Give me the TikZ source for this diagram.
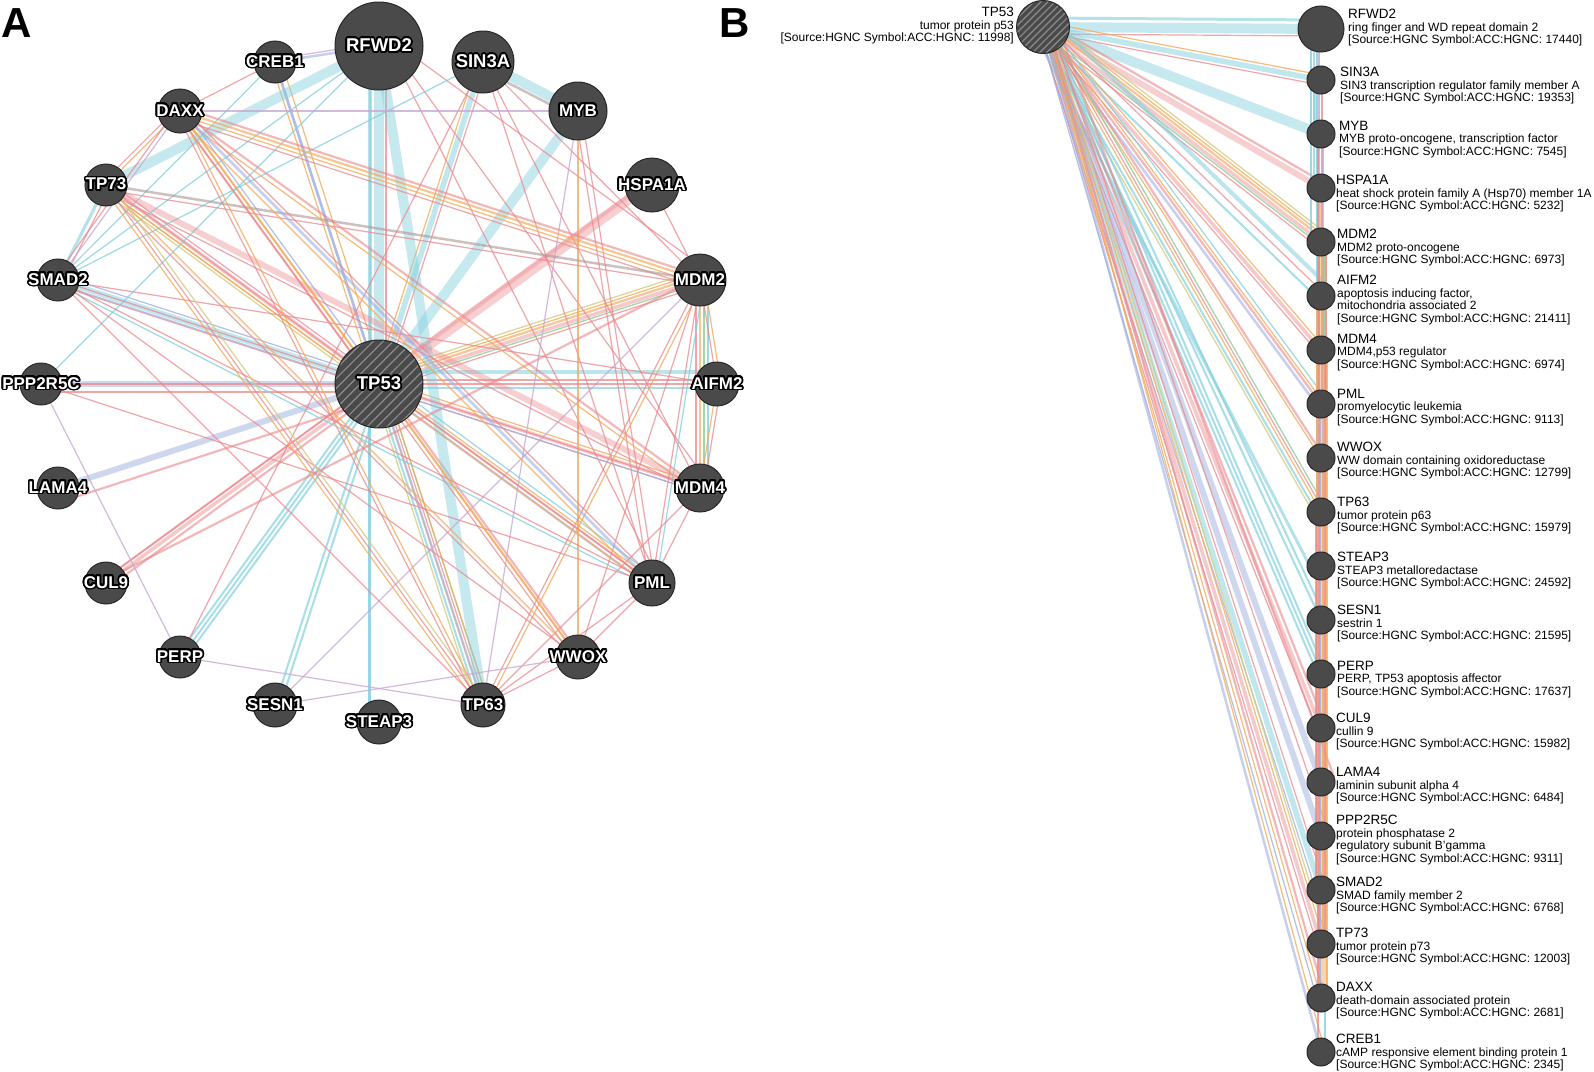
\documentclass[tikz,border=0pt]{standalone}
\usepackage{fontspec}
\setmainfont{Liberation Sans}
\usepackage[copies]{contour}
\contourlength{1.7pt}
\contournumber{24}
\usetikzlibrary{calc,patterns.meta}
\pgfdeclarelayer{bg}
\pgfsetlayers{bg,main}
\definecolor{pkc}{RGB}{235,135,140}
\definecolor{cyc}{RGB}{130,208,222}
\definecolor{orc}{RGB}{244,170,90}
\definecolor{lvc}{RGB}{160,176,224}
\definecolor{puc}{RGB}{200,168,212}
\definecolor{grc}{RGB}{140,205,150}
\definecolor{yec}{RGB}{212,204,130}
\definecolor{brc}{RGB}{176,150,150}
\definecolor{ndark}{RGB}{74,74,74}
\definecolor{nedge}{RGB}{40,40,40}
\definecolor{hatch}{RGB}{140,140,140}
\tikzset{
  edg/.style={line cap=butt},
  pk1/.style={edg,draw=pkc,line width=1.2pt,draw opacity=.75},
  pk2/.style={edg,draw=pkc,line width=2.2pt,draw opacity=.6},
  pk3/.style={edg,draw=pkc,line width=3.5pt,draw opacity=.45},
  pk5/.style={edg,draw=pkc,line width=6pt,draw opacity=.4},
  cy1/.style={edg,draw=cyc,line width=1.2pt,draw opacity=.8},
  cy2/.style={edg,draw=cyc,line width=2pt,draw opacity=.7},
  cy3/.style={edg,draw=cyc,line width=3pt,draw opacity=.6},
  cy4/.style={edg,draw=cyc,line width=4pt,draw opacity=.55},
  cy5/.style={edg,draw=cyc,line width=5.5pt,draw opacity=.5},
  cy10/.style={edg,draw=cyc,line width=10pt,draw opacity=.45},
  or1/.style={edg,draw=orc,line width=1.2pt,draw opacity=.8},
  or2/.style={edg,draw=orc,line width=2.2pt,draw opacity=.65},
  orband/.style={edg,draw=orc,line width=10pt,draw opacity=.5},
  lv1/.style={edg,draw=lvc,line width=1.2pt,draw opacity=.8},
  lv2/.style={edg,draw=lvc,line width=2.5pt,draw opacity=.6},
  lv5/.style={edg,draw=lvc,line width=6pt,draw opacity=.5},
  pu1/.style={edg,draw=puc,line width=1.2pt,draw opacity=.8},
  gr1/.style={edg,draw=grc,line width=1.3pt,draw opacity=.8},
  ye1/.style={edg,draw=yec,line width=1.3pt,draw opacity=.8},
  br2/.style={edg,draw=brc,line width=2.5pt,draw opacity=.6},
  gbase/.style={circle,draw=nedge,line width=1pt,inner sep=0pt},
  gnA/.style={gbase,fill=ndark},
  hatched/.style={gbase,preaction={fill=ndark},pattern={Lines[angle=45,distance=#1,line width=1.2pt]},pattern color=hatch},
  lblS/.style={text=white,inner sep=0pt,font=\bfseries\fontsize{17}{17}\selectfont},
  lblL/.style={text=white,inner sep=0pt,font=\bfseries\fontsize{18.5}{18.5}\selectfont},
  btext/.style={anchor=north west,align=left,inner sep=0pt,font=\fontsize{12}{12.5}\selectfont},
  head/.style={anchor=base west,inner sep=0pt,font=\bfseries\fontsize{42}{42}\selectfont}
}
% edge between two named nodes, shifted sideways by #1 pt
\newcommand\ed[4][0]{\draw[#4] ($(#2.center)!#1pt!90:(#3.center)$) -- ($(#3.center)!#1pt!-90:(#2.center)$);}
% panel A gene node
\newcommand\gA[5]{\node[gnA,minimum size=#4pt] (a#1) at (#2,#3) {};
  \node[#5] (a#1-t) at (a#1.center) {\contour{black}{#1}};}
% panel B gene node with description
\newcommand\gB[5]{\node[gnA,minimum size=28pt] (b#1) at (1321,#2) {};
  \node[btext] (b#1-t) at (#3,#2-#4) {{\fontsize{13.5}{12.5}\selectfont #1}\\#5};}
% TP53 edges (used in both panels)
\newcommand\fan[1]{%
  \ed{#1TP53}{#1RFWD2}{cy10}\ed[9]{#1TP53}{#1RFWD2}{cy3}\ed[-7]{#1TP53}{#1RFWD2}{pk1}
  \ed{#1TP53}{#1SIN3A}{cy5}\ed[5]{#1TP53}{#1SIN3A}{or1}\ed[-5]{#1TP53}{#1SIN3A}{pk1}
  \ed{#1TP53}{#1MYB}{cy10}
  \ed{#1TP53}{#1HSPA1A}{pk5}\ed[6]{#1TP53}{#1HSPA1A}{pk2}
  \ed{#1TP53}{#1MDM2}{pk3}\ed[4]{#1TP53}{#1MDM2}{or2}\ed[7]{#1TP53}{#1MDM2}{or1}
  \ed[-3]{#1TP53}{#1MDM2}{gr1}\ed[-6]{#1TP53}{#1MDM2}{pk1}\ed[10]{#1TP53}{#1MDM2}{ye1}
  \ed[12]{#1TP53}{#1AIFM2}{cy4}\ed[-4]{#1TP53}{#1AIFM2}{cy2}\ed[4]{#1TP53}{#1AIFM2}{pk1}
  \ed{#1TP53}{#1MDM4}{pk3}\ed[4]{#1TP53}{#1MDM4}{or1}\ed[-4]{#1TP53}{#1MDM4}{pk1}
  \ed{#1TP53}{#1PML}{pk2}\ed[3]{#1TP53}{#1PML}{or1}\ed[-4]{#1TP53}{#1PML}{lv2}\ed[7]{#1TP53}{#1PML}{cy1}
  \ed{#1TP53}{#1WWOX}{or1}\ed[3]{#1TP53}{#1WWOX}{pk2}
  \ed[-4]{#1TP53}{#1TP63}{cy2}\ed{#1TP53}{#1TP63}{or1}\ed[3]{#1TP53}{#1TP63}{pk1}
  \ed[6]{#1TP53}{#1TP63}{gr1}\ed[-7]{#1TP53}{#1TP63}{ye1}
  \ed[-10]{#1TP53}{#1STEAP3}{cy3}
  \ed{#1TP53}{#1SESN1}{cy2}\ed[5]{#1TP53}{#1SESN1}{cy2}
  \ed[-3]{#1TP53}{#1PERP}{cy2}\ed[1]{#1TP53}{#1PERP}{cy2}\ed[5]{#1TP53}{#1PERP}{cy2}
  \ed{#1TP53}{#1CUL9}{pk3}\ed[5]{#1TP53}{#1CUL9}{pk2}\ed[-4]{#1TP53}{#1CUL9}{pk1}
  \ed{#1TP53}{#1LAMA4}{lv5}\ed[14]{#1TP53}{#1LAMA4}{pk2}
  \ed{#1TP53}{#1PPP2R5C}{lv5}\ed[8]{#1TP53}{#1PPP2R5C}{pk1}
  \ed{#1TP53}{#1SMAD2}{cy5}\ed[5]{#1TP53}{#1SMAD2}{pk1}\ed[-5]{#1TP53}{#1SMAD2}{lv1}
  \ed{#1TP53}{#1TP73}{pk3}\ed[4]{#1TP53}{#1TP73}{or1}\ed[-4]{#1TP53}{#1TP73}{pk1}\ed[7]{#1TP53}{#1TP73}{ye1}
  \ed{#1TP53}{#1DAXX}{or1}\ed[4]{#1TP53}{#1DAXX}{pk2}\ed[-4]{#1TP53}{#1DAXX}{lv1}
  \ed{#1TP53}{#1CREB1}{lv2}\ed[4]{#1TP53}{#1CREB1}{or1}
}
\begin{document}
\begin{tikzpicture}[x=1pt,y=-1pt]
\useasboundingbox (0,0) rectangle (1594,1071);
% ---------------- Panel A ----------------
\node[head] (labA) at (1,37) {A};
\gA{RFWD2}{379}{46}{88}{lblL}
\gA{SIN3A}{483}{62}{62}{lblL}
\gA{MYB}{578}{111}{58}{lblS}
\gA{HSPA1A}{652}{185}{54}{lblS}
\gA{MDM2}{700}{280}{52}{lblS}
\gA{AIFM2}{717}{384}{44}{lblS}
\gA{MDM4}{700}{488}{48}{lblS}
\gA{PML}{652}{583}{46}{lblS}
\gA{WWOX}{578}{657}{44}{lblS}
\gA{TP63}{483}{705}{44}{lblS}
\gA{STEAP3}{379}{722}{44}{lblS}
\gA{SESN1}{275}{705}{44}{lblS}
\gA{PERP}{180}{657}{42}{lblS}
\gA{CUL9}{106}{583}{42}{lblS}
\gA{LAMA4}{58}{488}{42}{lblS}
\gA{PPP2R5C}{41}{384}{42}{lblS}
\gA{SMAD2}{58}{280}{42}{lblS}
\gA{TP73}{106}{185}{42}{lblS}
\gA{DAXX}{180}{111}{44}{lblS}
\gA{CREB1}{275}{62}{42}{lblS}
\node[hatched=7pt,minimum size=88pt] (aTP53) at (379,384) {};
\node[lblL] (aTP53-t) at (aTP53.center) {\contour{black}{TP53}};
% ---------------- Panel B ----------------
\node[head] (labB) at (719,37) {B};
\node[hatched=5pt,minimum size=53pt] (bTP53) at (1043,27) {};
\node[anchor=north east,align=right,inner sep=0pt,font=\fontsize{12}{12.5}\selectfont] (bTP53-t) at (1014,7)
  {{\fontsize{13.5}{12.5}\selectfont TP53}\\tumor protein p53\\{[}Source:HGNC Symbol:ACC:HGNC: 11998{]}};
\node[gnA,minimum size=46pt] (bRFWD2) at (1321,29) {};
\node[btext] (bRFWD2-t) at (1348,9) {{\fontsize{13.5}{12.5}\selectfont RFWD2}\\ring finger and WD repeat domain 2\\{[}Source:HGNC Symbol:ACC:HGNC: 17440{]}};
\gB{SIN3A}{80}{1340}{13}{SIN3 transcription regulator family member A\\{[}Source:HGNC Symbol:ACC:HGNC: 19353{]}}
\gB{MYB}{134}{1339}{13}{MYB proto-oncogene, transcription factor\\{[}Source:HGNC Symbol:ACC:HGNC: 7545{]}}
\gB{HSPA1A}{188}{1336}{13}{heat shock protein family A (Hsp70) member 1A\\{[}Source:HGNC Symbol:ACC:HGNC: 5232{]}}
\gB{MDM2}{242}{1337}{13}{MDM2 proto-oncogene\\{[}Source:HGNC Symbol:ACC:HGNC: 6973{]}}
\gB{AIFM2}{296}{1337}{21}{apoptosis inducing factor,\\mitochondria associated 2\\{[}Source:HGNC Symbol:ACC:HGNC: 21411{]}}
\gB{MDM4}{350}{1337}{16}{MDM4,p53 regulator\\{[}Source:HGNC Symbol:ACC:HGNC: 6974{]}}
\gB{PML}{404}{1337}{15}{promyelocytic leukemia\\{[}Source:HGNC Symbol:ACC:HGNC: 9113{]}}
\gB{WWOX}{458}{1337}{16}{WW domain containing oxidoreductase\\{[}Source:HGNC Symbol:ACC:HGNC: 12799{]}}
\gB{TP63}{512}{1337}{15}{tumor protein p63\\{[}Source:HGNC Symbol:ACC:HGNC: 15979{]}}
\gB{STEAP3}{566}{1337}{14}{STEAP3 metalloredactase\\{[}Source:HGNC Symbol:ACC:HGNC: 24592{]}}
\gB{SESN1}{620}{1337}{15}{sestrin 1\\{[}Source:HGNC Symbol:ACC:HGNC: 21595{]}}
\gB{PERP}{674}{1337}{13}{PERP, TP53 apoptosis affector\\{[}Source:HGNC Symbol:ACC:HGNC: 17637{]}}
\gB{CUL9}{728}{1336}{15}{cullin 9\\{[}Source:HGNC Symbol:ACC:HGNC: 15982{]}}
\gB{LAMA4}{782}{1336}{15}{laminin subunit alpha 4\\{[}Source:HGNC Symbol:ACC:HGNC: 6484{]}}
\gB{PPP2R5C}{836}{1336}{21}{protein phosphatase 2\\regulatory subunit B'gamma\\{[}Source:HGNC Symbol:ACC:HGNC: 9311{]}}
\gB{SMAD2}{890}{1336}{13}{SMAD family member 2\\{[}Source:HGNC Symbol:ACC:HGNC: 6768{]}}
\gB{TP73}{944}{1336}{16}{tumor protein p73\\{[}Source:HGNC Symbol:ACC:HGNC: 12003{]}}
\gB{DAXX}{998}{1336}{16}{death-domain associated protein\\{[}Source:HGNC Symbol:ACC:HGNC: 2681{]}}
\gB{CREB1}{1052}{1336}{18}{cAMP responsive element binding protein 1\\{[}Source:HGNC Symbol:ACC:HGNC: 2345{]}}
% ---------------- Edges ----------------
\begin{pgfonlayer}{bg}
\fill[white] (0,0) rectangle (1594,1071);
\fan{a}
\ed{aCREB1}{aRFWD2}{lv2}\ed[3]{aCREB1}{aRFWD2}{pu1}
\ed{aCREB1}{aDAXX}{pk1}\ed{aCREB1}{aSMAD2}{cy1}
\ed{aCREB1}{aTP63}{lv2}\ed[6]{aCREB1}{aTP63}{or1}
\ed{aRFWD2}{aTP73}{cy10}\ed{aRFWD2}{aSMAD2}{cy1}\ed{aRFWD2}{aPPP2R5C}{cy1}
\ed{aRFWD2}{aTP63}{cy10}\ed[-10]{aRFWD2}{aSTEAP3}{cy3}
\ed[12]{aRFWD2}{aMDM2}{pk1}\ed[10]{aRFWD2}{aMDM4}{pk1}\ed[8]{aRFWD2}{aPML}{pk1}
\ed{aSIN3A}{aMYB}{cy10}\ed[-7]{aSIN3A}{aMYB}{br2}
\ed{aSIN3A}{aSMAD2}{cy1}\ed{aSIN3A}{aPML}{pk1}\ed{aSIN3A}{aMDM4}{pk1}
\ed{aSIN3A}{aPERP}{pk1}\ed{aSIN3A}{aMDM2}{pk1}
\ed{aMYB}{aDAXX}{pu1}\ed[-3]{aMYB}{aPML}{pk1}\ed[3]{aMYB}{aPML}{pk1}
\ed{aMYB}{aWWOX}{or1}\ed{aMYB}{aTP63}{pu1}
\ed{aHSPA1A}{aMDM2}{pk1}\ed[-4]{aHSPA1A}{aCUL9}{pk2}
\ed{aMDM2}{aDAXX}{or2}\ed[4]{aMDM2}{aDAXX}{or1}\ed[-4]{aMDM2}{aDAXX}{pk2}\ed[8]{aMDM2}{aDAXX}{pk1}
\ed{aMDM2}{aTP73}{br2}\ed[5]{aMDM2}{aTP73}{pk1}
\ed{aMDM2}{aMDM4}{or2}\ed[4]{aMDM2}{aMDM4}{gr1}\ed[-4]{aMDM2}{aMDM4}{pk1}\ed[8]{aMDM2}{aMDM4}{cy1}
\ed{aMDM2}{aAIFM2}{pk1}\ed[4]{aMDM2}{aAIFM2}{or1}
\ed{aMDM2}{aPML}{pk1}\ed[4]{aMDM2}{aPML}{cy1}
\ed{aMDM2}{aTP63}{pk1}\ed[4]{aMDM2}{aTP63}{or1}
\ed{aMDM2}{aWWOX}{pk1}\ed{aMDM2}{aSESN1}{pu1}\ed[-3]{aMDM2}{aCUL9}{pk2}
\ed{aAIFM2}{aMDM4}{or1}\ed[4]{aAIFM2}{aMDM4}{pk1}
\ed{aAIFM2}{aPPP2R5C}{pk1}\ed{aAIFM2}{aSMAD2}{pk1}
\ed{aMDM4}{aDAXX}{pk2}\ed[5]{aMDM4}{aDAXX}{or1}
\ed{aMDM4}{aTP73}{pk5}\ed[6]{aMDM4}{aTP73}{pk1}
\ed{aMDM4}{aSMAD2}{pk1}\ed[4]{aMDM4}{aSMAD2}{lv1}
\ed{aMDM4}{aPML}{pk1}\ed{aMDM4}{aTP63}{pk1}
\ed{aPML}{aDAXX}{lv2}\ed[5]{aPML}{aDAXX}{or1}\ed[-4]{aPML}{aDAXX}{pk1}
\ed{aPML}{aTP73}{pk1}\ed[4]{aPML}{aTP73}{or1}
\ed{aPML}{aSMAD2}{pk1}\ed[4]{aPML}{aSMAD2}{cy1}
\ed{aPML}{aWWOX}{pk1}\ed{aPML}{aTP63}{pk1}\ed{aPML}{aPPP2R5C}{pk1}
\ed{aWWOX}{aTP73}{or1}\ed[4]{aWWOX}{aTP73}{pk1}
\ed{aWWOX}{aDAXX}{or2}\ed[4]{aWWOX}{aDAXX}{pk1}
\ed{aWWOX}{aSESN1}{pu1}\ed{aWWOX}{aTP63}{pk1}\ed{aWWOX}{aSMAD2}{pk1}
\ed{aTP63}{aTP73}{pk1}\ed[4]{aTP63}{aTP73}{or1}\ed[-4]{aTP63}{aTP73}{ye1}
\ed{aTP63}{aDAXX}{or1}\ed[4]{aTP63}{aDAXX}{pk1}
\ed{aTP63}{aPERP}{pu1}\ed{aTP63}{aSMAD2}{pk1}
\ed{aTP73}{aDAXX}{or1}\ed[4]{aTP73}{aDAXX}{pk1}
\ed{aTP73}{aSMAD2}{cy3}\ed[5]{aTP73}{aSMAD2}{pk1}
\ed{aSMAD2}{aDAXX}{pu1}\ed[4]{aSMAD2}{aDAXX}{pk1}
\ed{aPPP2R5C}{aPERP}{pu1}
% panel B
\fan{b}
\ed[-10]{bRFWD2}{bMDM2}{cy1}\ed[-7]{bRFWD2}{bHSPA1A}{cy2}
\ed[-4]{bRFWD2}{bSMAD2}{cy1}\ed[-2]{bRFWD2}{bMDM4}{pu1}
\ed[-6]{bSIN3A}{bMYB}{cy4}\ed[1]{bSIN3A}{bPML}{pk1}
\ed[2]{bMYB}{bTP63}{pu1}\ed[-3]{bMYB}{bPML}{pk1}
\ed{bHSPA1A}{bMDM2}{or2}
\ed[1]{bMDM2}{bDAXX}{orband}
\ed[-2]{bMDM2}{bTP73}{pk1}\ed[3]{bMDM2}{bMDM4}{gr1}\ed[5]{bMDM2}{bPML}{pk1}
\ed[-4]{bAIFM2}{bSMAD2}{or1}\ed[4]{bMDM4}{bTP73}{pk1}
\ed[-1]{bPML}{bDAXX}{lv1}\ed[6]{bMDM4}{bDAXX}{or1}
\ed[-5]{bTP63}{bSMAD2}{pk1}\ed[2]{bWWOX}{bTP73}{or1}
\ed[4]{bDAXX}{bCREB1}{cy1}\ed[-3]{bSMAD2}{bCREB1}{pk1}
\end{pgfonlayer}
\end{tikzpicture}
\end{document}
